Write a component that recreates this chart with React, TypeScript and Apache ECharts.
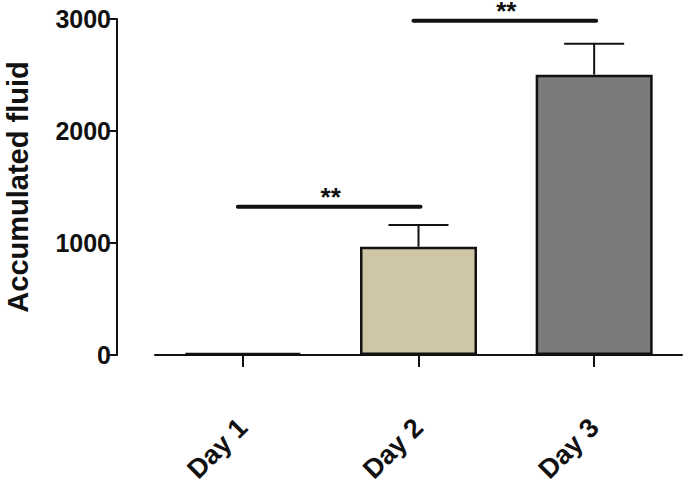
import React, { useEffect, useRef } from "react";
import * as echarts from "echarts";

const categories = ["Day 1", "Day 2", "Day 3"];
const means = [18, 967, 2503];
const upperErrors = [18, 1161, 2780];
const barColors = ["#ffffff", "#cec6a7", "#7b7b7b"];
const yTicks = { min: 0, max: 3000, interval: 1000 };
// significance brackets: [fromIndex, toIndex, level, label]
const sigFrom = [0, 1];
const sigTo = [1, 2];
const sigLevel = [1324, 2985];
const sigLabel = ["**", "**"];

const FONT = "'Liberation Sans', Arial, sans-serif";
const INK = "#111111";

export default function App() {
  const ref = useRef<HTMLDivElement>(null);
  useEffect(() => {
    if (!ref.current) return;
    const chart = echarts.init(ref.current, undefined, { renderer: "svg" });
    chart.setOption({
      animation: false,
      backgroundColor: "#ffffff",
      grid: { left: 155, right: 3, top: 19, bottom: 130, containLabel: false, outerBoundsMode: "none" },
      xAxis: {
        type: "category",
        data: categories,
        offset: 37,
        axisLine: { show: true, lineStyle: { color: INK, width: 2 } },
        axisTick: { show: true, alignWithLabel: true, length: 12, lineStyle: { color: INK, width: 2 } },
        axisLabel: {
          rotate: 45,
          margin: 31,
          color: INK,
          fontFamily: FONT,
          fontWeight: "bold",
          fontSize: 27,
        },
      },
      yAxis: {
        type: "value",
        min: yTicks.min,
        max: yTicks.max,
        interval: yTicks.interval,
        offset: 38,
        name: "Accumulated fluid",
        nameLocation: "middle",
        nameRotate: 90,
        nameGap: 86,
        nameTextStyle: { color: INK, fontFamily: FONT, fontWeight: "bold", fontSize: 29, lineHeight: 26 },
        splitLine: { show: false },
        axisLine: { show: true, lineStyle: { color: INK, width: 2 } },
        axisTick: { show: true, length: 10, lineStyle: { color: INK, width: 2 } },
        axisLabel: {
          margin: 6,
          color: INK,
          fontFamily: FONT,
          fontWeight: "bold",
          fontSize: 25,
          formatter: (v: number) => String(v),
        },
      },
      series: [
        {
          type: "bar",
          barWidth: 117,
          data: means.map((v, i) => ({
            value: v,
            itemStyle: { color: barColors[i], borderColor: INK, borderWidth: 2.5 },
          })),
        },
        {
          type: "custom",
          z: 1,
          data: categories.map((c, i) => [i, means[i], upperErrors[i]]),
          renderItem: (params: any, api: any) => {
            const x = api.value(0);
            const lo = api.coord([x, api.value(1)]);
            const hi = api.coord([x, api.value(2)]);
            if (Math.abs(lo[1] - hi[1]) < 1) return { type: "group", children: [] };
            const half = 30;
            const style = { stroke: INK, lineWidth: 2 };
            return {
              type: "group",
              children: [
                { type: "line", shape: { x1: lo[0], y1: lo[1], x2: hi[0], y2: hi[1] }, style },
                { type: "line", shape: { x1: hi[0] - half, y1: hi[1], x2: hi[0] + half, y2: hi[1] }, style },
              ],
            };
          },
        },
        {
          type: "custom",
          z: 3,
          data: sigFrom.map((f, i) => [f, sigTo[i], sigLevel[i], i]),
          renderItem: (params: any, api: any) => {
            const a = api.coord([api.value(0), api.value(2)]);
            const b = api.coord([api.value(1), api.value(2)]);
            const idx = api.value(3);
            return {
              type: "group",
              children: [
                {
                  type: "line",
                  shape: { x1: a[0] - 5, y1: a[1], x2: b[0] + 2, y2: b[1] },
                  style: { stroke: INK, lineWidth: 4, lineCap: "round" },
                },
                {
                  type: "text",
                  x: (a[0] + b[0]) / 2,
                  y: a[1] - 10,
                  style: {
                    text: sigLabel[idx],
                    fill: INK,
                    font: `bold 26px ${FONT}`,
                    lineHeight: 14,
                    align: "center",
                    verticalAlign: "middle",
                  },
                },
              ],
            };
          },
        },
      ],
    });
    return () => chart.dispose();
  }, []);
  return <div ref={ref} style={{ width: 685, height: 485, position: "absolute", left: 0, top: 0 }} />;
}
